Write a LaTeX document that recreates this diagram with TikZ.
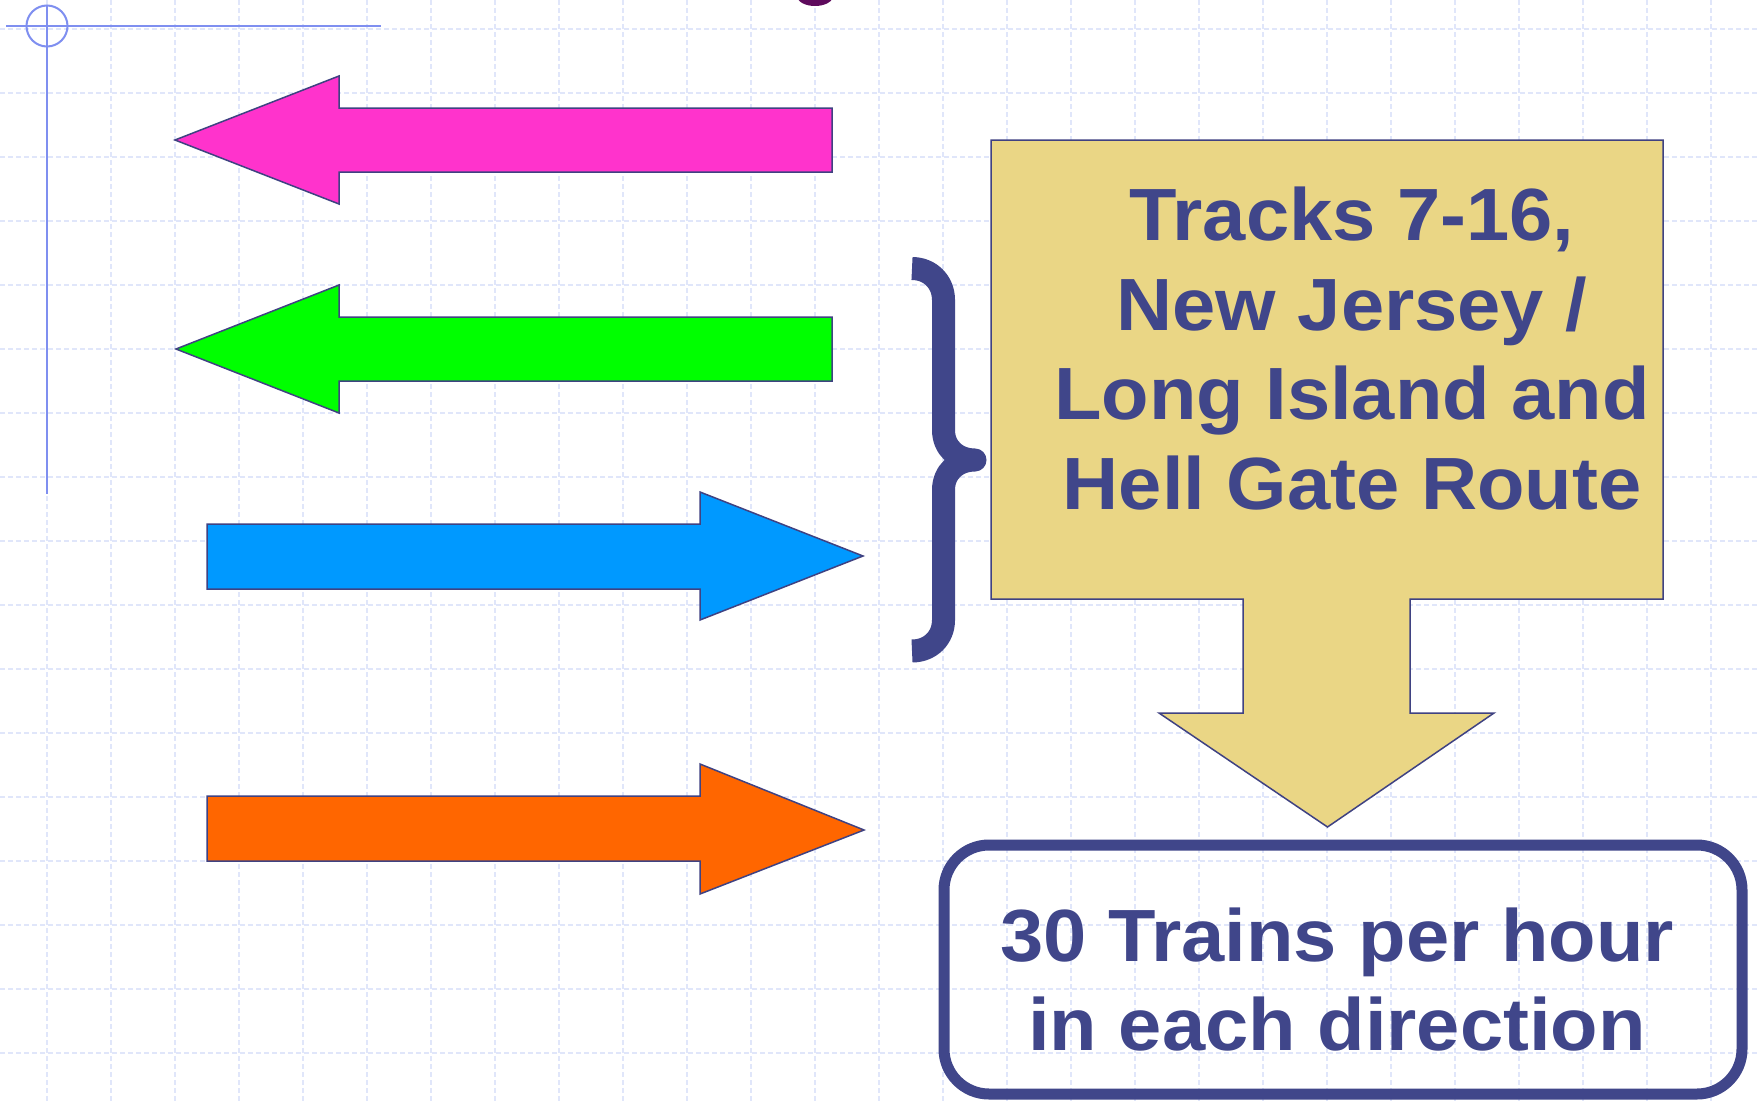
\documentclass[tikz,border=0pt]{standalone}
\usepackage{fontspec}
\setmainfont{Liberation Sans}
\newfontfamily\lblfont[FakeStretch=1.05]{Liberation Sans}
\definecolor{gridc}{HTML}{E0E6FA}
\definecolor{regc}{HTML}{7F8FF0}
\definecolor{navy}{HTML}{40468A}
\definecolor{outl}{HTML}{3F4282}
\definecolor{pinkc}{HTML}{FF33CC}
\definecolor{greenc}{HTML}{00FF00}
\definecolor{bluec}{HTML}{0099FF}
\definecolor{orangec}{HTML}{FF6600}
\definecolor{tanc}{HTML}{EAD685}
\definecolor{purpc}{HTML}{5E0A5C}
\begin{document}
\begin{tikzpicture}[x=1pt,y=-1pt,
  gridline/.style={draw=gridc, line width=1.3pt, dash pattern=on 5pt off 3pt},
  regline/.style={draw=regc, line width=2pt},
  arrowshape/.style={draw=outl, line width=1.5pt, line join=miter},
  lbl/.style={anchor=base, text=navy, inner sep=0pt, font=\lblfont\bfseries\fontsize{74}{90}\selectfont}]
\useasboundingbox (0,0) rectangle (1758,1103);
\fill[white] (0,0) rectangle (1758,1103);
% grid
\foreach \gx in {47,111,...,1711} \draw[gridline] (\gx,0) -- (\gx,1103);
\foreach \gy in {29,93,...,1053} \draw[gridline] (0,\gy) -- (1758,\gy);
% registration mark
\draw[regline] (6,26) -- (381,26);
\draw[regline] (47,5) -- (47,494);
\draw[regline] (47,26) circle[radius=20.5];
% purple glyph fragment at top
\fill[purpc] (815,-4) ellipse[x radius=18, y radius=10];
% arrows
\filldraw[arrowshape, fill=pinkc] (832,108) -- (339,108) -- (339,76) -- (175,140) -- (339,204) -- (339,172) -- (832,172) -- cycle;
\filldraw[arrowshape, fill=greenc] (832,317) -- (339,317) -- (339,285) -- (176,349) -- (339,413) -- (339,381) -- (832,381) -- cycle;
\filldraw[arrowshape, fill=bluec] (207,524) -- (700,524) -- (700,492) -- (863,556) -- (700,620) -- (700,589) -- (207,589) -- cycle;
\filldraw[arrowshape, fill=orangec] (207,796) -- (700,796) -- (700,764) -- (864,830) -- (700,894) -- (700,861) -- (207,861) -- cycle;
% brace
\draw[navy, line width=23pt, line join=round, line cap=butt]
  (912,268.5) .. controls (930,268.5) and (943.5,282) .. (943.5,300)
  -- (943.5,430) .. controls (943.5,448) and (957,460) .. (975,460)
  .. controls (957,460) and (943.5,472) .. (943.5,490)
  -- (943.5,620) .. controls (943.5,638) and (930,651) .. (912,651);
% callout
\filldraw[arrowshape, fill=tanc] (991,140) -- (1663,140) -- (1663,599) -- (1410,599) -- (1410,713) -- (1494,713) -- (1327.5,827) -- (1159,713) -- (1243,713) -- (1243,599) -- (991,599) -- cycle;
\node[lbl] (t1) at (1352,240) {Tracks 7-16,};
\node[lbl] (t2) at (1352,330) {New Jersey /};
\node[lbl] (t3) at (1352,419) {Long Island and};
\node[lbl] (t4) at (1352,509) {Hell Gate Route};
% result box
\draw[navy, line width=11pt, rounded corners=45pt] (944,845) rectangle (1742,1094);
\node[lbl] (r1) at (1337,961) {30 Trains per hour};
\node[lbl] (r2) at (1337,1050) {in each direction};
\end{tikzpicture}
\end{document}
